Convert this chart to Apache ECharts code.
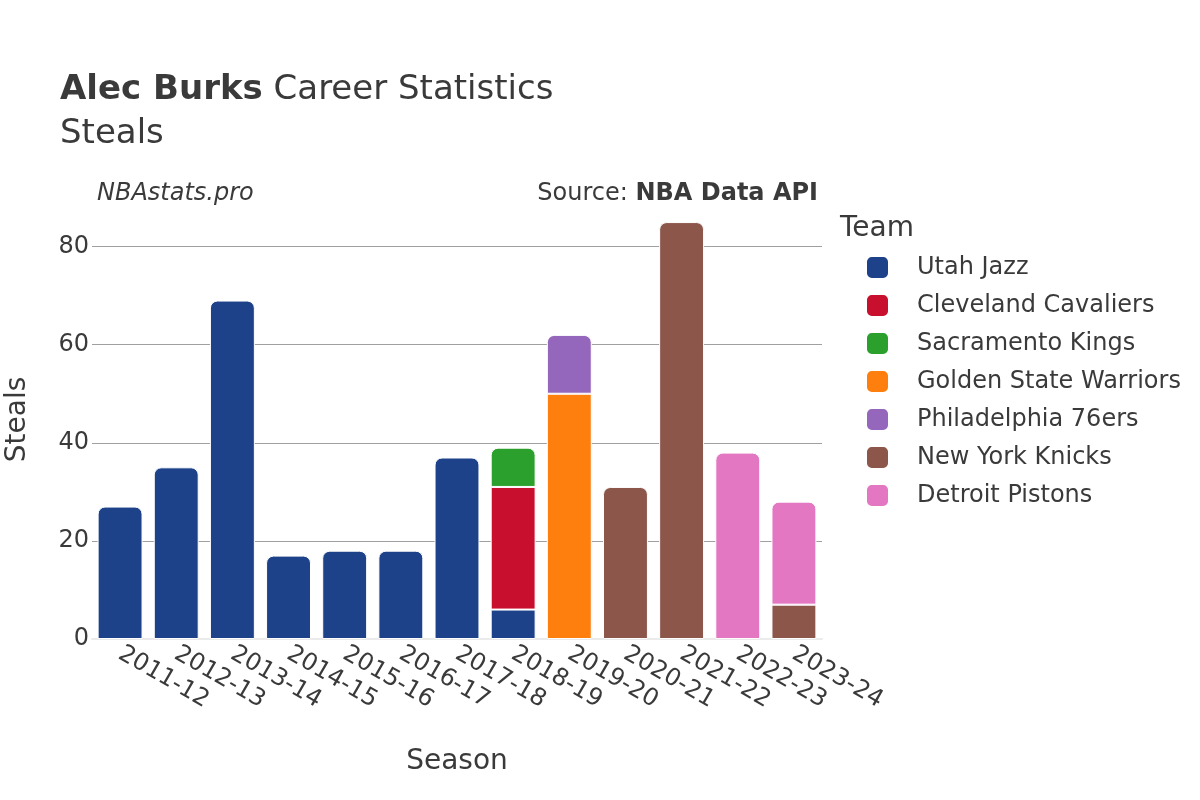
<!DOCTYPE html>
<html>
<head>
<meta charset="utf-8">
<script src="https://cdn.jsdelivr.net/npm/echarts@6/dist/echarts.min.js"></script>
<style>
html, body { margin: 0; padding: 0; background: #fff; }
#chart { width: 1200px; height: 800px; }
</style>
</head>
<body>
<div id="chart"></div>
<script>
// seasons on the x axis
const seasons = ['2011-12', '2012-13', '2013-14', '2014-15', '2015-16', '2016-17', '2017-18',
  '2018-19', '2019-20', '2020-21', '2021-22', '2022-23', '2023-24']

// steals per team, one entry per season (null = did not play there)
const utahJazz = [27, 35, 69, 17, 18, 18, 37, 6, null, null, null, null, null]
const clevelandCavaliers = [null, null, null, null, null, null, null, 25, null, null, null, null, null]
const sacramentoKings = [null, null, null, null, null, null, null, 8, null, null, null, null, null]
const goldenStateWarriors = [null, null, null, null, null, null, null, null, 50, null, null, null, null]
const philadelphia76ers = [null, null, null, null, null, null, null, null, 12, null, null, null, null]
const newYorkKnicks = [null, null, null, null, null, null, null, null, null, 31, 85, null, 7]
const detroitPistons = [null, null, null, null, null, null, null, null, null, null, null, 38, 21]

const yTicks = [0, 20, 40, 60, 80]

const teams = [
  { name: 'Utah Jazz', data: utahJazz, color: '#1d428a' },
  { name: 'Cleveland Cavaliers', data: clevelandCavaliers, color: '#c8102e' },
  { name: 'Sacramento Kings', data: sacramentoKings, color: '#2ca02c' },
  { name: 'Golden State Warriors', data: goldenStateWarriors, color: '#ff7f0e' },
  { name: 'Philadelphia 76ers', data: philadelphia76ers, color: '#9467bd' },
  { name: 'New York Knicks', data: newYorkKnicks, color: '#8c564b' },
  { name: 'Detroit Pistons', data: detroitPistons, color: '#e377c2' }
]

// which team sits on top of each stack (gets the rounded corners)
const topIndex = seasons.map((s, i) => {
  let top = -1
  teams.forEach((t, k) => { if (t.data[i]) top = k })
  return top
})

const font = 'DejaVu Sans'
const ink = '#3a3a3a'
const myChart = echarts.init(document.getElementById('chart'))

// grid lines at the labelled ticks only, none at the axis max
const gridColors = yTicks.map(() => '#a0a0a0').concat(['rgba(0,0,0,0)'])

const option = {
  animation: false,
  textStyle: { fontFamily: font },
  title: {
    text: '{b|Alec Burks} Career Statistics\nSteals',
    left: 60,
    top: 68,
    padding: 0,
    textStyle: {
      fontFamily: font,
      fontSize: 34,
      fontWeight: 'normal',
      color: ink,
      lineHeight: 44,
      rich: {
        b: { fontFamily: font, fontSize: 34, fontWeight: 'bold', color: ink, lineHeight: 44 }
      }
    }
  },
  graphic: [
    {
      type: 'text', left: 97, top: 182,
      style: { text: 'NBAstats.pro', font: 'italic 24px "DejaVu Sans"', fill: ink }
    },
    {
      type: 'text', right: 382, top: 182,
      style: {
        text: 'Source: {b|NBA Data API}',
        font: '24px "DejaVu Sans"',
        fill: ink,
        rich: { b: { font: 'bold 24px "DejaVu Sans"', fill: ink } }
      }
    },
    {
      type: 'text', left: 840, top: 215,
      style: { text: 'Team', font: '28px "DejaVu Sans"', fill: ink }
    }
  ],
  legend: {
    orient: 'vertical',
    left: 865,
    top: 255,
    padding: 0,
    itemWidth: 23,
    itemHeight: 23,
    itemGap: 13,
    icon: 'roundRect',
    textStyle: { fontFamily: font, fontSize: 24, lineHeight: 24, color: ink, padding: [0, 0, 0, 23] },
    data: teams.map(t => t.name)
  },
  grid: { left: 92, right: 378, top: 200, bottom: 161, outerBoundsMode: 'none', containLabel: false },
  xAxis: {
    type: 'category',
    data: seasons,
    name: 'Season',
    nameLocation: 'middle',
    nameGap: 109,
    nameTextStyle: { fontFamily: font, fontSize: 28, color: ink },
    axisTick: { show: false },
    axisLine: { lineStyle: { color: '#ebebeb', width: 2 } },
    axisLabel: { interval: 0, rotate: -30, fontFamily: font, fontSize: 24, color: ink, margin: 13 }
  },
  yAxis: {
    type: 'value',
    min: 0,
    max: 89.5,
    interval: 20,
    name: 'Steals',
    nameLocation: 'middle',
    nameGap: 60,
    nameTextStyle: { fontFamily: font, fontSize: 28, color: ink },
    axisLine: { show: false },
    axisTick: { show: false },
    axisLabel: {
      fontFamily: font, fontSize: 24, color: ink, margin: 3,
      formatter: v => (yTicks.indexOf(v) >= 0 ? String(v) : '')
    },
    splitLine: { lineStyle: { color: gridColors, width: 1 } }
  },
  series: teams.map((t, k) => ({
    type: 'bar',
    name: t.name,
    stack: 'steals',
    barCategoryGap: '20%',
    itemStyle: { color: t.color, borderColor: '#fff', borderWidth: 1 },
    data: t.data.map((v, i) => ({
      value: v,
      itemStyle: topIndex[i] === k ? { borderRadius: [7, 7, 0, 0] } : {}
    }))
  }))
}

myChart.setOption(option)
</script>
</body>
</html>
